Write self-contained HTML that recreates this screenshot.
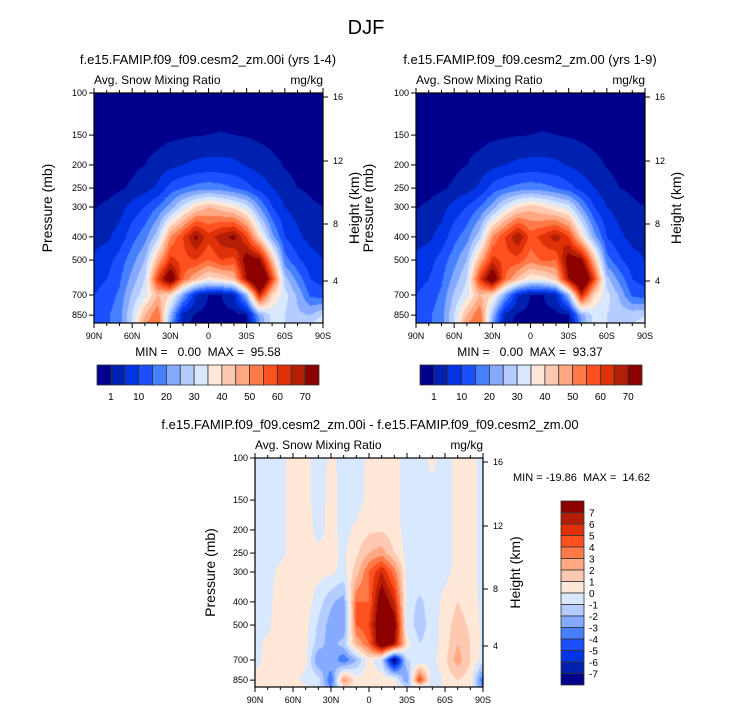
<!DOCTYPE html>
<html><head><meta charset="utf-8">
<style>
body{margin:0;background:#fff;width:733px;height:712px;overflow:hidden;position:relative;font-family:"Liberation Sans",sans-serif}
canvas{position:absolute}
svg{position:absolute;left:0;top:0}
text{white-space:pre}
</style></head>
<body>
<canvas id="c1" width="229" height="230" style="left:94px;top:93px"></canvas>
<canvas id="c2" width="229" height="230" style="left:416px;top:93px"></canvas>
<canvas id="c3" width="228" height="229" style="left:255px;top:458px"></canvas>
<svg id="s" width="733" height="712"></svg>
<script>
const latLabels=["90N","60N","30N","0","30S","60S","90S"];
const presLevels=[100,150,200,250,300,400,500,600,700,850,925];
const presTicks=[100,150,200,250,300,400,500,700,850];
const htTicks=[16,12,8,4];
const palette=["#00008c","#0020b0","#0034e4","#1c50ff","#4680ff","#86aaff","#b4ccff","#d8e8ff","#ffe8d8","#ffc8b0","#ffa882","#ff7a46","#ff5020","#e03008","#b41e04","#8c0000"];
const levA=[1,5,10,15,20,25,30,35,40,45,50,55,60,65,70];
const levA_labels=["1","10","20","30","40","50","60","70"];
const levD=[-7,-6,-5,-4,-3,-2,-1,0,1,2,3,4,5,6,7];
const fieldA=[
[0,0,0,0,0,0,0,0,0,0,0,0,0,0,0,0,0,0,0],
[0,0,0,0,0,0,0.3,0.5,0.8,1,1.1,1,0.7,0.3,0,0,0,0,0],
[0,0,0,0.3,1,2,3.5,5,6,6.5,6.5,6,4.5,3,1.8,0.8,0.3,0,0],
[0,0,0.5,1.5,3,6,12,15,17,18,17,15,12,8,5,2,1,0.5,0],
[0.8,1.5,3,7,10,15,22,32,40,45,42,38,32,20,10,5,3,1.5,1],
[3,4,7,13,18,28,50,60,72,62,68,72,60,40,22,10,6,3.5,2.5],
[6,8,12,18,25,45,62,58,60,55,60,58,75,72,45,17,11,7,5],
[8,10,14,22,30,60,80,55,45,38,40,45,70,92,60,27,18,10,8],
[10,12,16,26,33,45,40,22,5,1,1,4,25,65,40,32,24,14,12],
[12,14,18,30,45,55,25,3,0.5,0,0,0,0.5,22,32,30,26,25,30],
[12,14,18,30,50,55,22,2,0,0,0,0,0.3,20,32,30,28,28,36]];
const fieldB=[
[0,0,0,0,0,0,0,0,0,0,0,0,0,0,0,0,0,0,0],
[0,0,0,0,0,0,0.3,0.5,0.8,1,1.1,1,0.7,0.3,0,0,0,0,0],
[0,0,0,0.3,1,2,3.5,5,6,6.5,6.5,6,4.5,3,1.8,0.8,0.3,0,0],
[0,0,0.5,1.5,3,6,12,15,17,18,17,15,12,8,5,2,1,0.5,0],
[0.8,1.5,3,7,10,15,22,32,39,43,40,36,32,20,10,5,3,1.5,1],
[3,4,7,13,18,28,50,60,70,58,62,68,60,40,22,10,6,3.5,2.5],
[6,8,12,18,25,45,62,58,58,52,56,55,75,72,45,17,11,7,5],
[8,10,14,22,30,60,80,55,44,36,37,43,70,90,60,27,18,10,8],
[10,12,16,26,33,45,40,22,5,1,1,4,25,65,40,32,24,14,12],
[12,14,18,30,45,55,25,3,0.5,0,0,0,0.5,22,32,30,28,28,30],
[12,14,18,30,50,55,22,2,0,0,0,0,0.3,20,32,30,30,30,32]];
const fieldD=[
[-0.5,-0.5,-0.3,0.4,0.3,-0.4,0.2,-0.3,-0.4,0.2,0.4,0.3,-0.4,-0.3,0.2,-0.4,0.3,0.3,-0.3],
[-0.5,-0.5,-0.3,0.4,0.3,-0.4,0.3,-0.3,-0.4,0.3,0.4,0.3,-0.4,-0.3,-0.3,-0.4,0.3,0.3,-0.3],
[-0.5,-0.5,-0.3,0.4,0.4,-0.3,0.3,-0.3,0.2,0.8,0.9,0.4,-0.4,-0.3,-0.3,-0.4,0.3,0.3,-0.3],
[-0.5,-0.5,-0.3,0.4,0.4,0.2,0.3,-0.2,0.8,2,2.5,1,-0.4,-0.3,-0.3,-0.4,0.3,0.3,-0.3],
[-0.5,-0.4,0.3,0.4,0.4,0.3,0.2,-0.3,1.5,4,6,3.5,-0.3,-0.3,-0.3,-0.3,0.3,0.3,-0.3],
[-0.5,-0.3,0.5,0.3,0.5,-0.5,-1.8,-2.5,4,4,8.5,6,-0.5,-1.2,-0.5,0.3,1,0.5,-0.3],
[-0.5,-0.3,0.8,0.3,0.4,-1.2,-2.5,-3,4,5,9,8,-0.5,-1.5,-0.5,0.5,1.5,0.8,-0.3],
[-0.4,0.3,0.6,0.4,0.3,-1.5,-2.5,-1.5,2,4,9,7,0.5,-1,-0.5,0.5,2,1,-0.3],
[-0.3,0.3,0.5,0.3,0.3,-3,-2,-4,-2,0.5,-1,-8,-1,-1,-0.3,0.8,2.5,1,-0.5],
[0.3,0.3,0.3,0.3,-0.3,-0.5,-4,3,0.4,0.5,0.6,0.5,-3,5,-1,0.3,1,0.5,-4],
[0.3,0.3,0.3,0.3,0.3,-0.5,-3,0.3,0.3,0.4,0.4,0.3,-0.5,-2,-0.5,0.3,0.5,0.3,-3]];

const PXDEC=239;
function hex(c){return [parseInt(c.substr(1,2),16),parseInt(c.substr(3,2),16),parseInt(c.substr(5,2),16)];}
const rgb=palette.map(hex);
function classify(v,lev){let i=0;while(i<lev.length&&v>=lev[i])i++;return i;}
function render(id,field,lev){
  const cv=document.getElementById(id),ctx=cv.getContext('2d');
  const W=cv.width,H=cv.height,img=ctx.createImageData(W,H);
  const nc=field[0].length-1, lp=presLevels.map(p=>Math.log10(p));
  for(let y=0;y<H;y++){
    const L=2+(y+0.5)/PXDEC;
    let r=0;while(r<lp.length-2&&L>lp[r+1])r++;
    let fr=(L-lp[r])/(lp[r+1]-lp[r]);fr=Math.max(0,Math.min(1,fr));
    for(let x=0;x<W;x++){
      const c=(x+0.5)/W*nc;let ci=Math.min(nc-1,Math.floor(c));const fc=c-ci;
      const v=(field[r][ci]*(1-fc)+field[r][ci+1]*fc)*(1-fr)+(field[r+1][ci]*(1-fc)+field[r+1][ci+1]*fc)*fr;
      const k=classify(v,lev),o=(y*W+x)*4;
      img.data[o]=rgb[k][0];img.data[o+1]=rgb[k][1];img.data[o+2]=rgb[k][2];img.data[o+3]=255;
    }
  }
  ctx.putImageData(img,0,0);
}
render('c1',fieldA,levA);render('c2',fieldB,levA);render('c3',fieldD,levD);

const S=document.getElementById('s'),NS='http://www.w3.org/2000/svg';
function el(t,a,txt){const e=document.createElementNS(NS,t);for(const k in a)e.setAttribute(k,a[k]);if(txt!==undefined)e.textContent=txt;S.appendChild(e);return e;}
function txt(x,y,s,size,anchor,name){const e=el('text',{x:x,y:y,'font-size':size,'text-anchor':anchor||'start',fill:'#000'},s);

return e;}
txt(366,34,'DJF',20,'middle','main-title');
function panel(L,T,W,H,sub,subx,tag,pOff,hOff){
  txt(subx,T-29,sub,13,'middle',tag+'-title');
  txt(L,T-9,'Avg. Snow Mixing Ratio',12,'start',tag+'-variable-label');
  txt(L+W,T-9,'mg/kg',12,'end',tag+'-units-label');
  const fr=el('rect',{x:L,y:T,width:W,height:H,fill:'none',stroke:'#000','stroke-width':1.2});
  
  
  for(let i=0;i<=18;i++){const x=L+i*W/18,len=i%3==0?5:3;
    el('line',{x1:x,y1:T+H,x2:x,y2:T+H+len,stroke:'#000'});
    el('line',{x1:x,y1:T,x2:x,y2:T-len,stroke:'#000'});}
  latLabels.forEach((s,i)=>txt(L+i*W/6,T+H+16,s,9,'middle',tag+'-x-tick-label'));
  presTicks.forEach(p=>{const y=T+(Math.log10(p)-2)*PXDEC;
    el('line',{x1:L-5,y1:y,x2:L,y2:y,stroke:'#000'});
    txt(L-7,y+3,String(p),9,'end',tag+'-y-tick-label');});
  const hy=[4,68,131,188];
  htTicks.forEach((h,i)=>{const y=T+hy[i];el('line',{x1:L+W,y1:y,x2:L+W+5,y2:y,stroke:'#000'});
    txt(L+W+10,y+3,String(h),9,'start',tag+'-right-tick-label');});
  const ya=txt(0,0,'Pressure (mb)',14,'middle',tag+'-y-axis-title');ya.setAttribute('transform','translate('+(L-pOff)+','+(T+H/2)+') rotate(-90)');
  const yb=txt(0,0,'Height (km)',14,'middle',tag+'-right-axis-title');yb.setAttribute('transform','translate('+(L+W+hOff)+','+(T+H/2)+') rotate(-90)');
}
panel(94,93,229,230,'f.e15.FAMIP.f09_f09.cesm2_zm.00i (yrs 1-4)',208,'panel1',42,36);
panel(416,93,229,230,'f.e15.FAMIP.f09_f09.cesm2_zm.00 (yrs 1-9)',530,'panel2',43,36);
panel(255,458,228,229,'f.e15.FAMIP.f09_f09.cesm2_zm.00i - f.e15.FAMIP.f09_f09.cesm2_zm.00',370,'diff',40,37);
txt(208,356,'MIN =   0.00  MAX =  95.58',12,'middle','panel1-min-max');
txt(530,356,'MIN =   0.00  MAX =  93.37',12,'middle','panel2-min-max');
txt(513,481,'MIN = -19.86  MAX =  14.62',11,'start','diff-min-max');
function hbar(L,T,W,H,tag){const bw=W/16;
  palette.forEach((c,i)=>{const r=el('rect',{x:L+i*bw,y:T,width:bw,height:H,fill:c,stroke:'#333','stroke-width':0.8});
    
    });
  levA_labels.forEach((s,i)=>txt(L+(1+2*i)*bw,T+H+15,s,10,'middle',tag+'-label'));}
hbar(97,365,222,20,'colorbar1');hbar(420,365,222,20,'colorbar2');
(function(){const L=561,T=501,W=23,H=184,bh=H/16;
  for(let i=0;i<16;i++){const r=el('rect',{x:L,y:T+i*bh,width:W,height:bh,fill:palette[15-i],stroke:'#333','stroke-width':0.8});
    
    }
  for(let i=0;i<15;i++)txt(L+W+5,T+(i+1)*bh+4,String(levD[14-i]),10,'start','diff-colorbar-label');
})();
</script>
</body></html>
